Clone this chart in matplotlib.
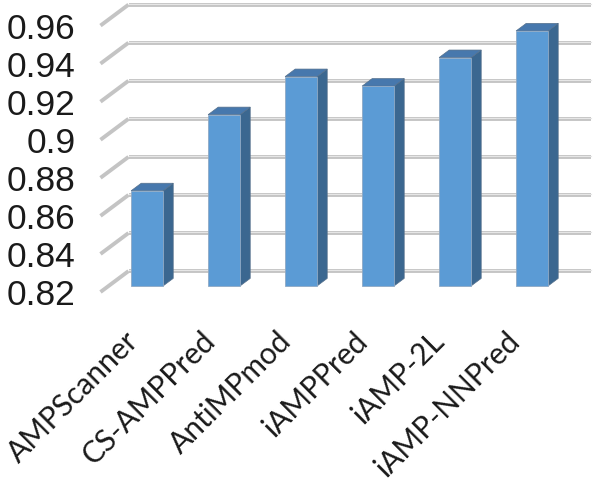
# accuracy comparison of AMP predictors, Excel style 3D columns

import numpy as np
import matplotlib.pyplot as plt
from matplotlib.patches import Polygon

methods = ["AMPScanner", "CS-AMPPred", "AntiMPmod", "iAMPPred", "iAMP-2L", "iAMP-NNPred"]
scores = [0.87, 0.91, 0.93, 0.925, 0.94, 0.954]
yticks = [0.82, 0.84, 0.86, 0.88, 0.90, 0.92, 0.94, 0.96]
ytick_labels = ["0.82", "0.84", "0.86", "0.88", "0.9", "0.92", "0.94", "0.96"]

# depth offset of the back wall (data units)
DX, DY = 0.364, 0.011
F0, F1 = 0.29, 0.65   # bar front/back depth fractions
W = 0.416

fig = plt.figure(figsize=(5.96, 4.84), dpi=100)
ax = fig.add_axes([100.5 / 596, 192 / 484, 490 / 596, 287.3 / 484])
ax.set_xlim(-0.5, 5.5 + DX)
ax.set_ylim(0.82, 0.82 + 287.3 / 1903)
for s in ax.spines.values():
    s.set_visible(False)
ax.set_xticks([])
ax.set_yticks(yticks)
ax.set_yticklabels(ytick_labels, fontsize=25.5, family="Liberation Sans", color="#1a1a1a")
ax.tick_params(axis="y", length=0, pad=18)

# walls gridlines
for t in yticks:
    ax.plot([-0.5, -0.5 + DX], [t, t + DY], color="#c4c4c4", lw=2.8, zorder=1,
            solid_capstyle="butt", clip_on=False)
    ax.plot([-0.5 + DX, 5.5 + DX], [t + DY, t + DY], color="#c4c4c4", lw=2.8, zorder=1,
            solid_capstyle="butt", clip_on=False)
    ax.plot([-0.5 + DX, 5.5 + DX], [t + DY + 0.0004, t + DY + 0.0004], color="#e6e6e6",
            lw=0.8, zorder=1, clip_on=False)

front_c = "#5b9bd5"
side_c = "#3b6790"
top_c = "#4778ad"
for i, v in enumerate(scores):
    x0 = i - W / 2 + F0 * DX
    x1 = x0 + W
    yb = 0.82 + F0 * DY
    yt = v + F0 * DY
    ddx = (F1 - F0) * DX
    ddy = (F1 - F0) * DY
    front = Polygon([(x0, yb), (x1, yb), (x1, yt), (x0, yt)], closed=True,
                    facecolor=front_c, edgecolor="#8fa9c4", lw=0.6, zorder=3)
    side = Polygon([(x1, yb), (x1 + ddx, yb + ddy), (x1 + ddx, yt + ddy), (x1, yt)],
                   closed=True, facecolor=side_c, edgecolor="#55708c", lw=0.5, zorder=3)
    top = Polygon([(x0, yt), (x1, yt), (x1 + ddx, yt + ddy), (x0 + ddx, yt + ddy)],
                  closed=True, facecolor=top_c, edgecolor="#55708c", lw=0.5, zorder=3)
    for p in (side, top, front):
        ax.add_patch(p)

# rotated category labels
for i, m in enumerate(methods):
    ax.text(-0.19 + 0.99 * i, 0.8018, m, rotation=45, rotation_mode="anchor",
            ha="right", va="top", fontsize=21.5, family="Lato", color="#1a1a1a",
            clip_on=False)

fig.savefig("out.png", dpi=100)
